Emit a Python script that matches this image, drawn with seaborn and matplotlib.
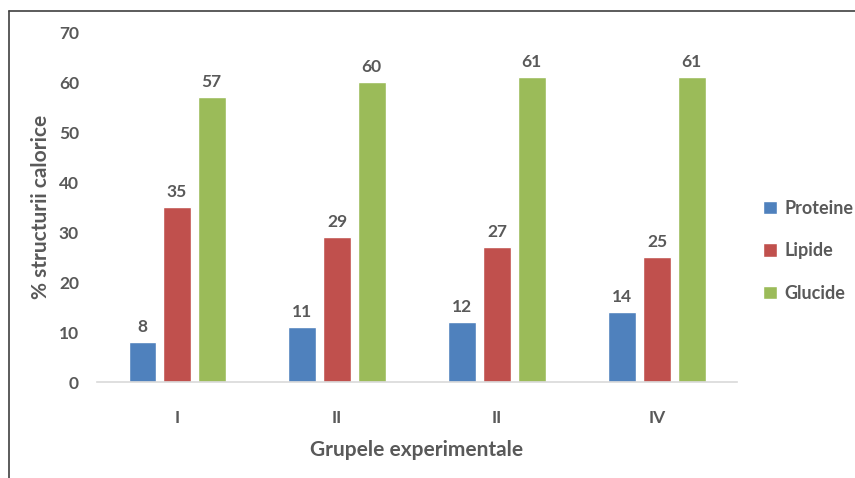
import pandas as pd
import numpy as np
import matplotlib.pyplot as plt
import seaborn as sns

grupe = ["I", "II", "II", "IV"]
proteine = [8, 11, 12, 14]
lipide = [35, 29, 27, 25]
glucide = [57, 60, 61, 61]
serii = ["Proteine", "Lipide", "Glucide"]

rows = []
for i, g in enumerate(grupe):
    rows.append({"poz": i, "Grupa": g, "Serie": "Proteine", "Valoare": proteine[i]})
    rows.append({"poz": i, "Grupa": g, "Serie": "Lipide", "Valoare": lipide[i]})
    rows.append({"poz": i, "Grupa": g, "Serie": "Glucide", "Valoare": glucide[i]})
df = pd.DataFrame(rows)

sns.set_style("white")
plt.rcParams['font.family'] = ['Lato', 'DejaVu Sans']
gri = "#595959"
culori = {"Proteine": "#4F81BD", "Lipide": "#C0504D", "Glucide": "#9BBB59"}

fig = plt.figure(figsize=(8.55, 4.78), dpi=100)
ax = fig.add_axes([0.1135, 0.2008, 0.7485, 0.7322])

sns.barplot(data=df, x="poz", y="Valoare", hue="Serie", hue_order=serii,
            palette=culori, width=0.65, gap=0.2, saturation=1, ax=ax)

for cont in ax.containers:
    ax.bar_label(cont, padding=5, fontsize=12.5, fontweight="bold", color=gri)

ax.set_ylim(0, 70)
ax.set_xlim(-0.5, 3.5)
ax.set_yticks(range(0, 71, 10))
ax.set_xticks(range(len(grupe)))
ax.set_xticklabels(grupe)
ax.tick_params(axis="both", length=0, labelsize=12.5, colors=gri)
ax.tick_params(axis="x", pad=20)
ax.tick_params(axis="y", pad=13)
for lbl in ax.get_xticklabels() + ax.get_yticklabels():
    lbl.set_fontweight("bold")

for s in ["top", "right", "left"]:
    ax.spines[s].set_visible(False)
ax.spines["bottom"].set_color("#d9d9d9")
ax.spines["bottom"].set_linewidth(1.2)

ax.set_xlabel("Grupele experimentale", fontsize=15, fontweight="bold", color=gri, labelpad=10)
ax.set_ylabel("% structurii calorice", fontsize=15, fontweight="bold", color=gri, labelpad=6)

leg = ax.legend(loc="center left", bbox_to_anchor=(1.03, 0.375), frameon=False,
                fontsize=13, handlelength=0.75, handleheight=0.75, labelspacing=1.4,
                handletextpad=0.4, borderaxespad=0.0)
for t in leg.get_texts():
    t.set_color(gri)
    t.set_fontweight("bold")

# chenarul figurii (stanga si sus)
fig.add_artist(plt.Line2D([0.0105, 0.0105], [0, 0.978], color="#404040", lw=1.2))
fig.add_artist(plt.Line2D([0.0105, 1.0], [0.978, 0.978], color="#404040", lw=1.2))

plt.savefig("out.png", dpi=100)
